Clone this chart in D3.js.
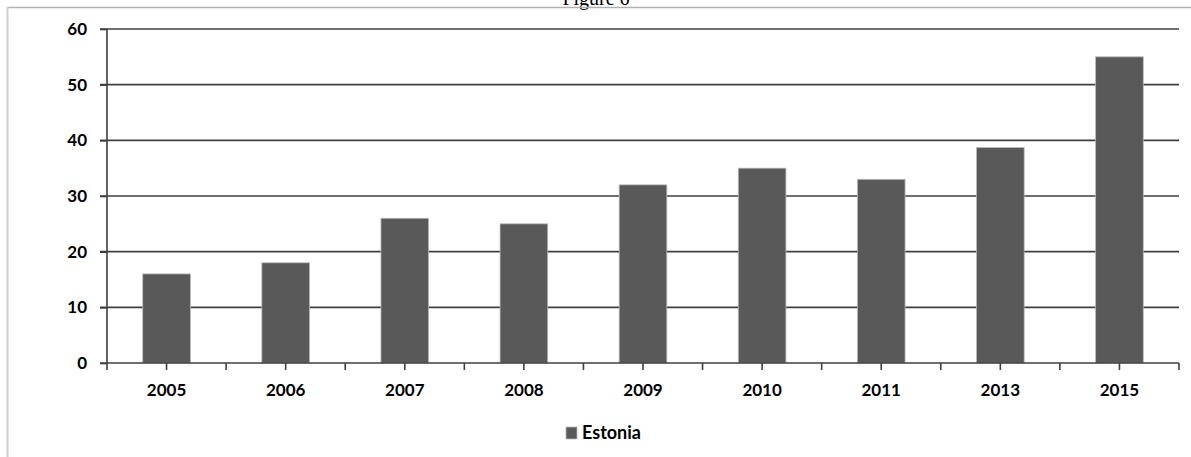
<!DOCTYPE html>
<html><head><meta charset="utf-8">
<script src="https://cdn.jsdelivr.net/npm/d3@7"></script>
<style>body{margin:0;background:#fff}svg{display:block}</style>
</head><body>
<svg id="c" width="1191" height="457"></svg>
<script>
const categories = ["2005","2006","2007","2008","2009","2010","2011","2013","2015"];
const estonia = [16, 18, 26, 25, 32, 35, 33, 38.7, 55];
const yTicks = [0, 10, 20, 30, 40, 50, 60];
const seriesName = "Estonia";
const title = "Figure 6";

(function () {
const svg = d3.select("#c");
const W = 1191, H = 457;
const mLeft = 107, mRight = 1179, mTop = 29, mBottom = 363;
const font = "Lato, 'Open Sans', sans-serif";

// frame
svg.append("text").attr("x", 596).attr("y", 5).attr("text-anchor", "middle")
  .attr("font-family", "'Liberation Serif', serif").attr("font-size", 20).attr("fill", "#000").text(title);
svg.append("line").attr("x1", 7).attr("x2", W).attr("y1", 7.5).attr("y2", 7.5).attr("stroke", "#b0b0b0").attr("stroke-width", 1.5);
svg.append("line").attr("x1", 7.5).attr("x2", 7.5).attr("y1", 7).attr("y2", H).attr("stroke", "#d0d0d0").attr("stroke-width", 2);

const x = d3.scaleBand().domain(categories).range([mLeft, mRight]).paddingInner(0.6).paddingOuter(0.3);
const y = d3.scaleLinear().domain([0, 60]).range([mBottom, mTop]);

// gridlines
svg.append("g").selectAll("line").data(yTicks.filter(d => d > 0)).join("line")
  .attr("x1", mLeft - 7).attr("x2", mRight).attr("y1", d => y(d)).attr("y2", d => y(d))
  .attr("stroke", "#3f3f3f").attr("stroke-width", 1.6);

// bars
svg.append("g").selectAll("rect").data(categories).join("rect")
  .attr("x", d => x(d)).attr("width", x.bandwidth())
  .attr("y", (d, i) => y(estonia[i])).attr("height", (d, i) => y(0) - y(estonia[i]))
  .attr("fill", "#595959").attr("stroke", "#b8b8b8").attr("stroke-width", 0.8);

// y axis
const yAxis = d3.axisLeft(y).tickValues(yTicks).tickSize(7).tickPadding(13).tickFormat(d3.format("d"));
const gy = svg.append("g").attr("transform", `translate(${mLeft},0)`).call(yAxis);
gy.select(".domain").attr("stroke", "#3f3f3f").attr("stroke-width", 1.6).attr("d", `M0,${mTop}V${mBottom}`);
gy.selectAll(".tick line").attr("stroke", "#3f3f3f").attr("stroke-width", 1.6);
gy.selectAll("text").attr("font-family", font).attr("font-weight", "bold").attr("font-size", 17).attr("fill", "#000");

// x axis
const gx = svg.append("g").attr("transform", `translate(0,${mBottom})`);
gx.append("line").attr("x1", mLeft - 7).attr("x2", mRight).attr("y1", 0).attr("y2", 0).attr("stroke", "#3f3f3f").attr("stroke-width", 1.6);
const step = x.step();
const tickPos = d3.range(0, categories.length * 2 + 1).map(i => mLeft + i * step / 2);
gx.selectAll("line.t").data(tickPos).join("line").attr("class", "t")
  .attr("x1", d => d).attr("x2", d => d).attr("y1", 0).attr("y2", 7)
  .attr("stroke", "#3f3f3f").attr("stroke-width", 1.6);
gx.selectAll("text").data(categories).join("text")
  .attr("x", d => x(d) + x.bandwidth() / 2).attr("y", 33).attr("text-anchor", "middle")
  .attr("font-family", font).attr("font-weight", "bold").attr("font-size", 17).attr("fill", "#000").text(d => d);

// legend
const lg = svg.append("g").attr("transform", "translate(566,427)");
lg.append("rect").attr("width", 11).attr("height", 12).attr("fill", "#595959").attr("stroke", "#b8b8b8").attr("stroke-width", 0.8);
lg.append("text").attr("x", 16).attr("y", 12).attr("font-family", font).attr("font-weight", "bold")
  .attr("font-size", 18).attr("fill", "#000").text(seriesName);
})();
</script>
</body></html>
